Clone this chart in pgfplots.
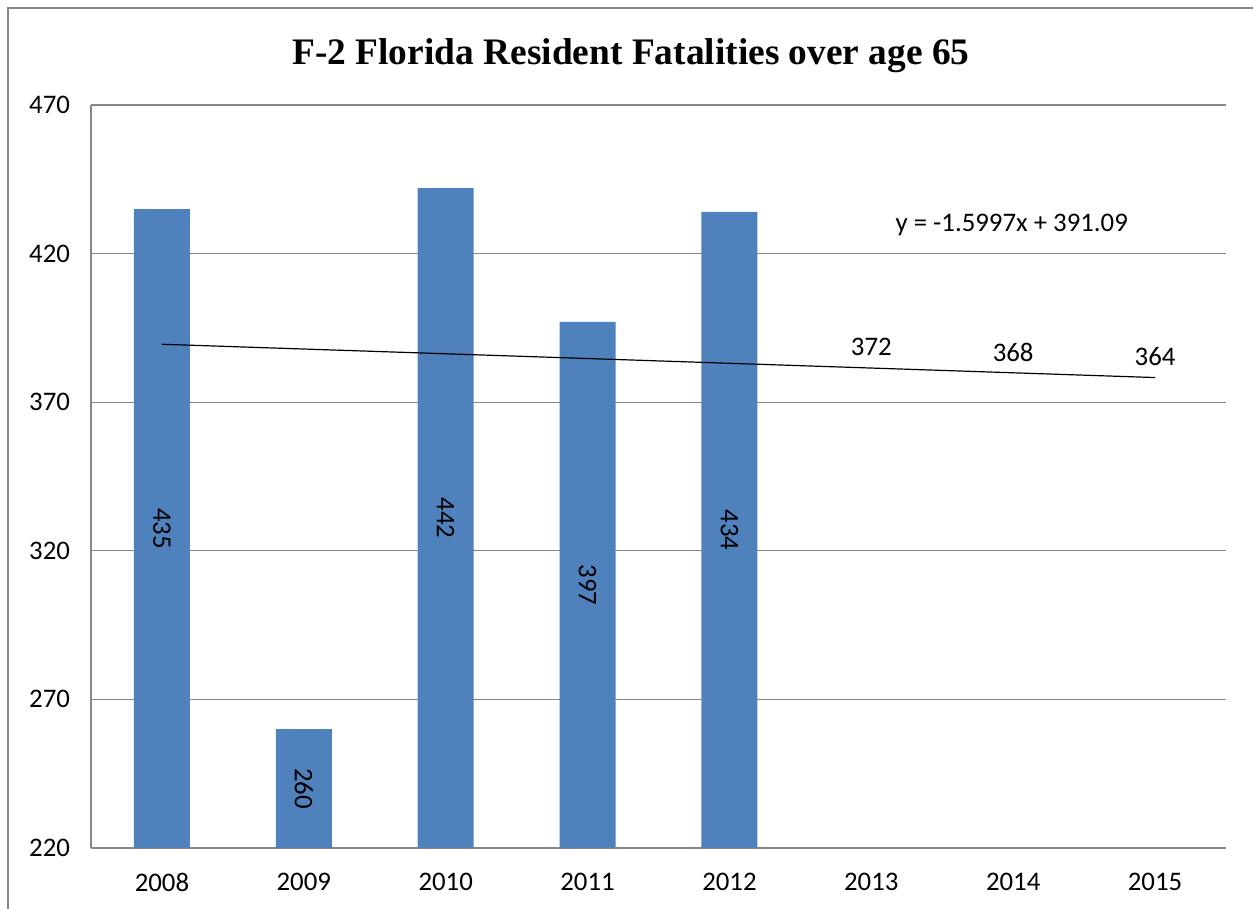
\documentclass[border=0pt]{standalone}
\usepackage{fontspec}
\setmainfont{Carlito}
\newfontfamily\titlefont{Liberation Serif}
\usepackage{pgfplots}
\pgfplotsset{compat=1.18}
\definecolor{barblue}{HTML}{4F81BD}
\definecolor{gridgray}{HTML}{878787}
\begin{document}
\begin{tikzpicture}
\useasboundingbox (0,0) rectangle (626.5pt,454.5pt);
% chart frame (cut off at right and bottom)
\draw[gridgray, line width=0.6pt] (4pt,0) -- (4pt,450.5pt) -- (626.5pt,450.5pt);
\node[font=\titlefont\bfseries\fontsize{18.7}{22}\selectfont] at (315.5pt,426.5pt) {F-2 Florida Resident Fatalities over age 65};
\begin{axis}[
  at={(45.5pt,30.5pt)}, anchor=south west,
  scale only axis, width=567.5pt, height=371.5pt,
  xmin=0.5, xmax=8.5, ymin=220, ymax=470,
  ytick={220,270,320,370,420,470},
  xtick={1,...,8},
  xticklabels={2008,2009,2010,2011,2012,2013,2014,2015},
  axis lines*=left,
  axis line style={gridgray, line width=0.6pt},
  ymajorgrids, grid style={gridgray, line width=0.6pt},
  major tick length=0pt,
  tick label style={font=\fontsize{13.4}{16}\selectfont},
  yticklabel style={xshift=-7pt},
  xticklabel style={yshift=-9pt},
  /pgf/number format/assume math mode=true,
  clip=false,
]
\addplot[ybar, bar width=28pt, fill=barblue, draw=none] coordinates {
  (1,435) (2,260) (3,442) (4,397) (5,434)};
% linear trend y = -1.5997x + 391.09
\addplot[black, line width=0.6pt] coordinates {(1,389.49) (8,378.29)};
\begin{scope}[every node/.style={font=\fontsize{13.4}{16}\selectfont, rotate=-90}]
\node at (axis cs:1,327.5) {435};
\node at (axis cs:2,240) {260};
\node at (axis cs:3,331) {442};
\node at (axis cs:4,308.5) {397};
\node at (axis cs:5,327) {434};
\end{scope}
\begin{scope}[every node/.style={font=\fontsize{13.4}{16}\selectfont}]
\node at (axis cs:6,388.6) {372};
\node at (axis cs:7,386.6) {368};
\node at (axis cs:8,385.2) {364};
\node at (axis cs:6.99,429.6) {y = -1.5997x + 391.09};
\end{scope}
\end{axis}
\end{tikzpicture}
\end{document}
